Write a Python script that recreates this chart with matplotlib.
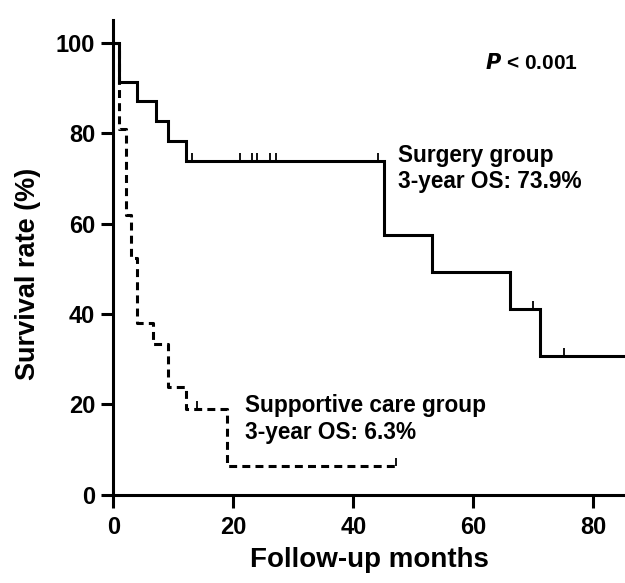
import numpy as np
import matplotlib
matplotlib.use("Agg")
import matplotlib.pyplot as plt
from matplotlib.path import Path

plt.rcParams['font.family'] = ['Liberation Sans', 'DejaVu Sans']
plt.rcParams['font.weight'] = 'bold'

# Surgery group (Kaplan-Meier steps)
surg_times = [0, 1.0, 4.0, 7.1, 9.1, 12.1, 45.1, 53.1, 66.1, 71.1]
surg_surv = [100, 91.3, 87.0, 82.6, 78.3, 73.9, 57.5, 49.3, 41.1, 30.8]
surg_end = 90
surg_censor = [13.1, 21.1, 23.1, 24.0, 26.1, 27.1, 44.1, 70.0, 75.2]

# Supportive care group
care_times = [0, 1.0, 2.1, 3.0, 4.0, 6.6, 9.1, 12.1, 19.0]
care_surv = [100, 81.0, 61.9, 52.4, 38.1, 33.3, 23.8, 19.0, 6.3]
care_end = 47.2
care_censor = [14.0, 47.2]

x_ticks = [0, 20, 40, 60, 80]
y_ticks = [0, 20, 40, 60, 80, 100]


def km_value(times, surv, t):
    idx = np.searchsorted(times, t, side='right') - 1
    return np.asarray(surv)[idx]


# upward tick used for censored observations
censor_mark = Path([(0, 0), (0, 1)], [Path.MOVETO, Path.LINETO])

fig = plt.figure(figsize=(6.25, 5.83), dpi=100)
ax = fig.add_axes([0.1813, 0.151, 0.8187, 0.8148])

lw = 2.2
ax.step(surg_times + [surg_end], surg_surv + [surg_surv[-1]], where='post',
        color='black', lw=lw, solid_joinstyle='miter')
ax.step(care_times + [care_end], care_surv + [care_surv[-1]], where='post',
        color='black', lw=lw, linestyle=(0, (2.6, 1.7)))

ax.plot(surg_censor, km_value(surg_times, surg_surv, surg_censor),
        linestyle='none', marker=censor_mark, markersize=12,
        markeredgewidth=1.3, color='black')
ax.plot(care_censor, km_value(care_times, care_surv, care_censor),
        linestyle='none', marker=censor_mark, markersize=12,
        markeredgewidth=1.3, color='black')

ax.set_xlim(0, 85.3)
ax.set_ylim(0, 105)
ax.set_xticks(x_ticks)
ax.set_yticks(y_ticks)

for side in ['top', 'right']:
    ax.spines[side].set_visible(False)
for side in ['left', 'bottom']:
    ax.spines[side].set_linewidth(2.2)
ax.tick_params(width=2.2, length=9, labelsize=17)
ax.tick_params(axis='x', pad=6)
ax.tick_params(axis='y', pad=4)
for lab in ax.get_xticklabels() + ax.get_yticklabels():
    lab.set_fontweight('bold')

ax.set_xlabel('Follow-up months', fontsize=20, fontweight='bold', labelpad=6)
ax.set_ylabel('Survival rate (%)', fontsize=19.5, fontweight='bold')
ax.yaxis.set_label_coords(-0.142, 0.465)

ax.text(61.9, 95.4, r'$\bfit{P}$ < 0.001', fontsize=15, fontweight='bold', va='center')
ax.text(47.4, 72.2, 'Surgery group\n3-year OS: 73.9%', fontsize=16.3,
        fontweight='bold', va='center', linespacing=1.2)
ax.text(22.0, 16.8, 'Supportive care group\n3-year OS: 6.3%', fontsize=16.3,
        fontweight='bold', va='center', linespacing=1.2)

fig.savefig('out.png', dpi=100)
